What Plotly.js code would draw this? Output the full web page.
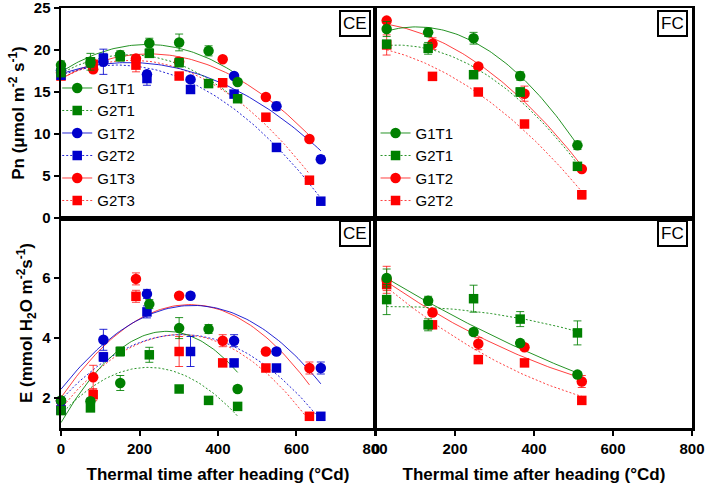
<!DOCTYPE html>
<html>
<head>
<meta charset="utf-8">
<script src="https://cdn.plot.ly/plotly-3.0.1.min.js"></script>
<style>html,body{margin:0;padding:0;background:#fff;}#chart{width:708px;height:485px;}</style>
</head>
<body>
<div id="chart"></div>
<script>
// ---------- Data ----------
// Thermal time after heading (°Cd) – CE panels
const xCE_T1 = [0, 75, 151, 225, 301, 376, 450];      // green (T1)
const xCE_T2 = [0, 108, 219, 330, 441, 549, 662];     // blue (T2)
const xCE_T3 = [0, 82, 191, 301, 412, 522, 633];      // red (T3)
// FC panels
const xFC_T1 = [27, 132, 247, 365, 510];              // green
const xFC_T2 = [27, 143, 259, 376, 521];              // red

// Pn, CE
const pnCE_G1T1 = [18.2, 18.5, 19.4, 20.8, 20.9, 19.9, 16.2];
const pnCE_G2T1 = [17.3, 18.6, 19.2, 19.6, 18.5, 16.0, 14.2];
const pnCE_G1T2 = [17.6, 18.6, 17.1, 16.5, 16.9, 13.3, 7.0];
const pnCE_G2T2 = [17.0, 19.0, 16.6, 15.3, 14.75, 8.4, 2.0];
const pnCE_G1T3 = [17.3, 17.7, 19.0, 18.6, 18.9, 14.4, 9.4];
const pnCE_G2T3 = [16.9, 18.3, 18.2, 16.9, 16.1, 12.0, 4.5];
const pnCE_G1T1_err = [0.5, 0.6, 0.5, 0.6, 1.0, 0.6, 0.3];
const pnCE_G2T1_err = [0.4, 1.0, 0.5, 0.4, 0.5, 0.3, 0.3];
const pnCE_G1T2_err = [0.3, 1.5, 0.4, 0.3, 0.3, 0.5, 0.4];
const pnCE_G2T2_err = [0.3, 0.6, 0.8, 0.3, 0.3, 0.3, 0.3];
const pnCE_G1T3_err = [0.3, 0.4, 0.4, 0.5, 0.3, 0.3, 0.3];
const pnCE_G2T3_err = [0.3, 0.4, 0.8, 0.3, 0.3, 0.3, 0.3];

// E, CE
const eCE_G1T1 = [1.92, 1.89, 2.5, 5.13, 4.33, 4.3, 2.3];
const eCE_G2T1 = [1.58, 1.67, 3.55, 3.44, 2.3, 1.92, 1.72];
const eCE_G1T2 = [1.9, 3.94, 5.47, 5.41, 3.91, 3.55, 3.0];
const eCE_G2T2 = [1.6, 3.37, 4.87, 3.55, 3.17, 3.0, 1.39];
const eCE_G1T3 = [1.9, 2.69, 5.97, 5.41, 3.91, 3.55, 3.0];
const eCE_G2T3 = [1.6, 2.11, 5.39, 3.55, 3.17, 3.0, 1.39];
const eCE_G1T1_err = [0.1, 0.1, 0.25, 0.15, 0.35, 0.15, 0.1];
const eCE_G2T1_err = [0.1, 0.1, 0.15, 0.25, 0.1, 0.1, 0.1];
const eCE_G1T2_err = [0.1, 0.35, 0.15, 0.1, 0.2, 0.1, 0.2];
const eCE_G2T2_err = [0.1, 0.15, 0.2, 0.5, 0.1, 0.1, 0.1];
const eCE_G1T3_err = [0.1, 0.4, 0.2, 0.1, 0.2, 0.1, 0.2];
const eCE_G2T3_err = [0.1, 0.2, 0.2, 0.5, 0.1, 0.1, 0.1];

// Pn, FC
const pnFC_G1T1 = [22.5, 22.1, 21.4, 16.9, 8.65];
const pnFC_G2T1 = [20.7, 20.2, 17.06, 15.0, 6.15];
const pnFC_G1T2 = [23.5, 20.75, 18.05, 14.8, 5.83];
const pnFC_G2T2 = [20.6, 16.86, 15.0, 11.19, 2.77];
const pnFC_G1T1_err = [0.9, 0.5, 0.7, 0.5, 0.5];
const pnFC_G2T1_err = [0.4, 0.7, 0.3, 0.5, 0.3];
const pnFC_G1T2_err = [0.3, 0.7, 0.3, 0.9, 0.3];
const pnFC_G2T2_err = [1.2, 0.3, 0.3, 0.3, 0.5];

// E, FC
const eFC_G1T1 = [6.0, 5.24, 4.2, 3.83, 2.78];
const eFC_G2T1 = [5.28, 4.44, 5.31, 4.63, 4.17];
const eFC_G1T2 = [5.94, 4.85, 3.81, 3.69, 2.55];
const eFC_G2T2 = [5.78, 4.44, 3.28, 3.17, 1.92];
const eFC_G1T1_err = [0.3, 0.15, 0.1, 0.1, 0.1];
const eFC_G2T1_err = [0.5, 0.2, 0.45, 0.25, 0.4];
const eFC_G1T2_err = [0.45, 0.1, 0.2, 0.1, 0.2];
const eFC_G2T2_err = [0.2, 0.1, 0.1, 0.1, 0.1];

const xTicks = [0, 200, 400, 600, 800];
const pnTicks = [0, 5, 10, 15, 20, 25];
const eTicks = [2, 4, 6];

// ---------- Helpers ----------
const GREEN = '#008000', BLUE = '#0000cc', RED = '#ff0000';
const LINE = {green: 'rgba(0,128,0,0.85)', blue: 'rgba(0,0,204,0.85)', red: 'rgba(255,0,0,0.75)'};
const FONT = 'Arial, "Liberation Sans", Helvetica, sans-serif';

// least-squares quadratic fit (the trend curves of the original)
function quadFit(x, y) {
  let s = [0,0,0,0,0], t = [0,0,0];
  for (let i = 0; i < x.length; i++) {
    let p = 1;
    for (let k = 0; k < 5; k++) { s[k] += p; if (k < 3) t[k] += p * y[i]; p *= x[i]; }
  }
  const A = [[s[0], s[1], s[2], t[0]], [s[1], s[2], s[3], t[1]], [s[2], s[3], s[4], t[2]]];
  for (let c = 0; c < 3; c++) {
    for (let r = c + 1; r < 3; r++) {
      const f = A[r][c] / A[c][c];
      for (let k = c; k < 4; k++) A[r][k] -= f * A[c][k];
    }
  }
  const b = [0,0,0];
  for (let r = 2; r >= 0; r--) {
    let v = A[r][3];
    for (let k = r + 1; k < 3; k++) v -= A[r][k] * b[k];
    b[r] = v / A[r][r];
  }
  return b;
}
function fitCurve(x, y) {
  const b = quadFit(x, y);
  const x0 = Math.min(...x), x1 = Math.max(...x);
  const xs = [], ys = [];
  for (let i = 0; i <= 80; i++) {
    const xv = x0 + (x1 - x0) * i / 80;
    xs.push(xv); ys.push(b[0] + b[1] * xv + b[2] * xv * xv);
  }
  return {xs, ys};
}
// interleave nulls so points are never joined, while the legend still shows line + marker
function gap(a) { const o = []; a.forEach((v, i) => { o.push(v); if (i < a.length - 1) o.push(null); }); return o; }

const traces = [];
const markerTraces = [];
function series(name, x, y, err, color, lineColor, dotted, symbol, xa, ya, legend, showlegend) {
  const c = fitCurve(x, y);
  traces.push({
    type: 'scatter', mode: 'lines', x: c.xs, y: c.ys, xaxis: xa, yaxis: ya,
    line: {color: lineColor, width: 1, dash: dotted ? '2px,2px' : 'solid'},
    showlegend: false, hoverinfo: 'skip', cliponaxis: false
  });
  markerTraces.push({
    type: 'scatter', mode: 'lines+markers', name: name, x: gap(x), y: gap(y), xaxis: xa, yaxis: ya,
    connectgaps: false, cliponaxis: false, legend: legend, showlegend: showlegend,
    line: {color: lineColor, width: 1, dash: dotted ? '2px,2px' : 'solid'},
    marker: {color: color, symbol: symbol, size: symbol === 'square' ? 9.5 : 10.5, line: {width: 0}},
    error_y: {type: 'data', array: gap(err), visible: true, color: lineColor, thickness: 1, width: 4}
  });
}

// Drawing order: red, blue, then green on top
// Pn CE
series('G2T3', xCE_T3, pnCE_G2T3, pnCE_G2T3_err, RED, LINE.red, true, 'square', 'x', 'y', 'legend', true);
series('G1T3', xCE_T3, pnCE_G1T3, pnCE_G1T3_err, RED, LINE.red, false, 'circle', 'x', 'y', 'legend', true);
series('G2T2', xCE_T2, pnCE_G2T2, pnCE_G2T2_err, BLUE, LINE.blue, true, 'square', 'x', 'y', 'legend', true);
series('G1T2', xCE_T2, pnCE_G1T2, pnCE_G1T2_err, BLUE, LINE.blue, false, 'circle', 'x', 'y', 'legend', true);
series('G2T1', xCE_T1, pnCE_G2T1, pnCE_G2T1_err, GREEN, LINE.green, true, 'square', 'x', 'y', 'legend', true);
series('G1T1', xCE_T1, pnCE_G1T1, pnCE_G1T1_err, GREEN, LINE.green, false, 'circle', 'x', 'y', 'legend', true);
// E CE
series('G2T3', xCE_T3, eCE_G2T3, eCE_G2T3_err, RED, LINE.red, true, 'square', 'x3', 'y3', 'legend', false);
series('G1T3', xCE_T3, eCE_G1T3, eCE_G1T3_err, RED, LINE.red, false, 'circle', 'x3', 'y3', 'legend', false);
series('G2T2', xCE_T2, eCE_G2T2, eCE_G2T2_err, BLUE, LINE.blue, true, 'square', 'x3', 'y3', 'legend', false);
series('G1T2', xCE_T2, eCE_G1T2, eCE_G1T2_err, BLUE, LINE.blue, false, 'circle', 'x3', 'y3', 'legend', false);
series('G2T1', xCE_T1, eCE_G2T1, eCE_G2T1_err, GREEN, LINE.green, true, 'square', 'x3', 'y3', 'legend', false);
series('G1T1', xCE_T1, eCE_G1T1, eCE_G1T1_err, GREEN, LINE.green, false, 'circle', 'x3', 'y3', 'legend', false);
// Pn FC
series('G2T2', xFC_T2, pnFC_G2T2, pnFC_G2T2_err, RED, LINE.red, true, 'square', 'x2', 'y2', 'legend2', true);
series('G1T2', xFC_T2, pnFC_G1T2, pnFC_G1T2_err, RED, LINE.red, false, 'circle', 'x2', 'y2', 'legend2', true);
series('G2T1', xFC_T1, pnFC_G2T1, pnFC_G2T1_err, GREEN, LINE.green, true, 'square', 'x2', 'y2', 'legend2', true);
series('G1T1', xFC_T1, pnFC_G1T1, pnFC_G1T1_err, GREEN, LINE.green, false, 'circle', 'x2', 'y2', 'legend2', true);
// E FC
series('G2T2', xFC_T2, eFC_G2T2, eFC_G2T2_err, RED, LINE.red, true, 'square', 'x4', 'y4', 'legend2', false);
series('G1T2', xFC_T2, eFC_G1T2, eFC_G1T2_err, RED, LINE.red, false, 'circle', 'x4', 'y4', 'legend2', false);
series('G2T1', xFC_T1, eFC_G2T1, eFC_G2T1_err, GREEN, LINE.green, true, 'square', 'x4', 'y4', 'legend2', false);
series('G1T1', xFC_T1, eFC_G1T1, eFC_G1T1_err, GREEN, LINE.green, false, 'circle', 'x4', 'y4', 'legend2', false);

const data = traces.concat(markerTraces);

const frame = {showline: true, linecolor: '#000', linewidth: 2.5, mirror: true, showgrid: false, zeroline: false, ticklabeloverflow: 'allow'};
const tickFont = {family: FONT, size: 15, color: '#000', weight: 'bold'};
const titleFont = {family: FONT, size: 17, color: '#000', weight: 'bold'};
const L = [0, 0.4976], R = [0.4992, 1], TOP = [0.5, 1], BOT = [0, 0.5];

const layout = {
  width: 708, height: 485,
  margin: {l: 61, r: 16, t: 8, b: 57},
  paper_bgcolor: '#fff', plot_bgcolor: '#fff',
  font: {family: FONT, color: '#000'},
  xaxis: Object.assign({}, frame, {domain: L, anchor: 'y', range: [0, 800], showticklabels: false, ticks: ''}),
  xaxis2: Object.assign({}, frame, {domain: R, anchor: 'y2', range: [0, 800], showticklabels: false, ticks: ''}),
  xaxis3: Object.assign({}, frame, {domain: L, anchor: 'y3', range: [0, 800], tickvals: xTicks, ticks: 'outside', ticklen: 5, tickwidth: 2, tickcolor: '#000', tickfont: tickFont,
    title: {text: 'Thermal time after heading (°Cd)', font: titleFont, standoff: 13}}),
  xaxis4: Object.assign({}, frame, {domain: R, anchor: 'y4', range: [0, 800], tickvals: xTicks, ticks: 'outside', ticklen: 5, tickwidth: 2, tickcolor: '#000', tickfont: tickFont,
    title: {text: 'Thermal time after heading (°Cd)', font: titleFont, standoff: 13}}),
  yaxis: Object.assign({}, frame, {domain: TOP, anchor: 'x', range: [0, 25], tickvals: pnTicks, ticks: 'outside', ticklen: 5, tickwidth: 2, tickcolor: '#000', tickfont: tickFont,
    title: {text: 'Pn (μmol m<sup>-2</sup> s<sup>-1</sup>)', font: titleFont, standoff: 5}}),
  yaxis2: Object.assign({}, frame, {domain: TOP, anchor: 'x2', range: [0, 25], showticklabels: false, ticks: ''}),
  yaxis3: Object.assign({}, frame, {domain: BOT, anchor: 'x3', range: [1, 8], tickvals: eTicks, ticks: 'outside', ticklen: 5, tickwidth: 2, tickcolor: '#000', tickfont: tickFont,
    title: {text: 'E (mmol H<sub>2</sub>O m<sup>-2</sup>s<sup>-1</sup>)', font: titleFont, standoff: 5}}),
  yaxis4: Object.assign({}, frame, {domain: BOT, anchor: 'x4', range: [1, 8], showticklabels: false, ticks: ''}),
  legend: {x: -0.006, xanchor: 'left', y: 0.503, yanchor: 'bottom', traceorder: 'reversed', bgcolor: 'rgba(0,0,0,0)',
    font: {family: FONT, size: 15, color: '#000'}, borderwidth: 0, itemwidth: 30},
  legend2: {x: 0.4985, xanchor: 'left', y: 0.503, yanchor: 'bottom', traceorder: 'reversed', bgcolor: 'rgba(0,0,0,0)',
    font: {family: FONT, size: 15, color: '#000'}, borderwidth: 0, itemwidth: 30},
  annotations: [
    ['x', 'y', 'CE'], ['x2', 'y2', 'FC'], ['x3', 'y3', 'CE'], ['x4', 'y4', 'FC']
  ].map(a => ({
    xref: a[0] + ' domain', yref: a[1] + ' domain', x: 0.988, y: 0.99, xanchor: 'right', yanchor: 'top',
    text: a[2], showarrow: false, bordercolor: '#000', borderwidth: 2, borderpad: 2, bgcolor: '#fff',
    font: {family: FONT, size: 17, color: '#000'}
  })),
  showlegend: true
};

Plotly.newPlot('chart', data, layout, {staticPlot: true, displayModeBar: false});
</script>
</body>
</html>
